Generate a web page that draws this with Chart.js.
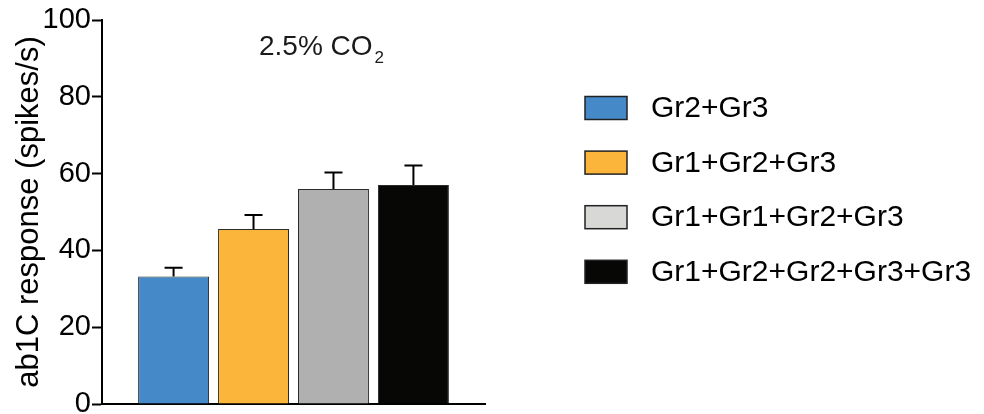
<!DOCTYPE html>
<html>
<head>
<meta charset="utf-8">
<script src="https://cdn.jsdelivr.net/npm/chart.js@4.4.1/dist/chart.umd.min.js"></script>
<style>
    html, body { margin: 0; padding: 0; background: #fff; }
    #wrap { width: 984px; height: 414px; position: relative; }
</style>
</head>
<body>
<div id="wrap"><canvas id="chart"></canvas></div>
<script>
const groups = ['Gr2+Gr3', 'Gr1+Gr2+Gr3', 'Gr1+Gr1+Gr2+Gr3', 'Gr1+Gr2+Gr2+Gr3+Gr3'];
const means = [33.2, 45.6, 56.0, 57.0];
const errors = [2.3, 3.6, 4.3, 5.1];
const yTicks = [0, 20, 40, 60, 80, 100];
const condition = '2.5% CO';
const conditionSub = '2';

const barColors = ['#4589c8', '#fbb53a', '#b0b0b1', '#070705'];
const legendColors = ['#4589c8', '#fbb53a', '#d8d8d6', '#070705'];
const FONT = "'Liberation Sans', Arial, Helvetica, sans-serif";

// error bars (upper only) on top of each bar
const errorBars = {
    id: 'errorBars',
    afterDatasetsDraw(chart) {
        const ctx = chart.ctx;
        const y = chart.scales.y;
        ctx.save();
        ctx.strokeStyle = '#000';
        ctx.lineWidth = 2;
        chart.data.datasets.forEach(function (ds, i) {
            const bar = chart.getDatasetMeta(i).data[0];
            const top = y.getPixelForValue(means[i] + errors[i]);
            const base = y.getPixelForValue(means[i]);
            ctx.beginPath();
            ctx.moveTo(bar.x, base);
            ctx.lineTo(bar.x, top);
            ctx.moveTo(bar.x - 9, top);
            ctx.lineTo(bar.x + 9, top);
            ctx.stroke();
        });
        ctx.restore();
    }
};

// legend on the right + condition label
const sideLegend = {
    id: 'sideLegend',
    afterDraw(chart) {
        const ctx = chart.ctx;
        ctx.save();
        ctx.font = '30px ' + FONT;
        ctx.textBaseline = 'middle';
        ctx.textAlign = 'left';
        chart.data.datasets.forEach(function (ds, i) {
            const cy = 108 + i * 54.6;
            ctx.fillStyle = legendColors[i];
            ctx.fillRect(585, cy - 11.5, 42, 23);
            ctx.strokeStyle = '#222';
            ctx.lineWidth = 1.5;
            ctx.strokeRect(585, cy - 11.5, 42, 23);
            ctx.fillStyle = '#000';
            ctx.fillText(ds.label, 651, cy + 1);
        });

        ctx.fillStyle = '#1a1a1a';
        ctx.textBaseline = 'alphabetic';
        ctx.font = '28px ' + FONT;
        ctx.fillText(condition, 259, 55);
        const w = ctx.measureText(condition).width;
        ctx.font = '17px ' + FONT;
        ctx.fillText(conditionSub, 259 + w + 2, 63);
        ctx.restore();
    }
};

new Chart(document.getElementById('chart'), {
    type: 'bar',
    data: {
        labels: [condition + conditionSub],
        datasets: groups.map(function (g, i) {
            return {
                label: g,
                data: [means[i]],
                backgroundColor: barColors[i],
                borderColor: '#2b2b2b',
                borderWidth: 1,
                categoryPercentage: 0.835,
                barPercentage: 0.8875,
            };
        }),
    },
    options: {
        responsive: true,
        maintainAspectRatio: false,
        animation: false,
        layout: { padding: { top: 20, bottom: 10, left: 0, right: 499 } },
        plugins: {
            legend: { display: false },
            tooltip: { enabled: false },
        },
        scales: {
            x: {
                grid: { display: false, drawTicks: false },
                ticks: { display: false },
                border: { display: true, color: '#000', width: 2 },
                afterFit: function (scale) {
                    scale.height = 0;
                },
            },
            y: {
                min: 0,
                max: 100,
                afterBuildTicks: function (scale) {
                    scale.ticks = yTicks.map(function (v) { return { value: v }; });
                },
                afterFit: function (scale) {
                    scale.width = 102;
                    scale.paddingTop = 0;
                    scale.paddingBottom = 0;
                },
                grid: {
                    display: true,
                    drawOnChartArea: false,
                    drawTicks: true,
                    tickLength: 10,
                    tickWidth: 2,
                    color: '#000',
                },
                border: { display: true, color: '#000', width: 2 },
                ticks: {
                    color: '#000',
                    padding: 1,
                    font: { family: FONT, size: 29 },
                },
                title: {
                    display: true,
                    text: 'ab1C response (spikes/s)',
                    color: '#000',
                    padding: { top: 11, bottom: 0 },
                    font: { family: FONT, size: 31 },
                },
            },
        },
    },
    plugins: [errorBars, sideLegend],
});
</script>
</body>
</html>
